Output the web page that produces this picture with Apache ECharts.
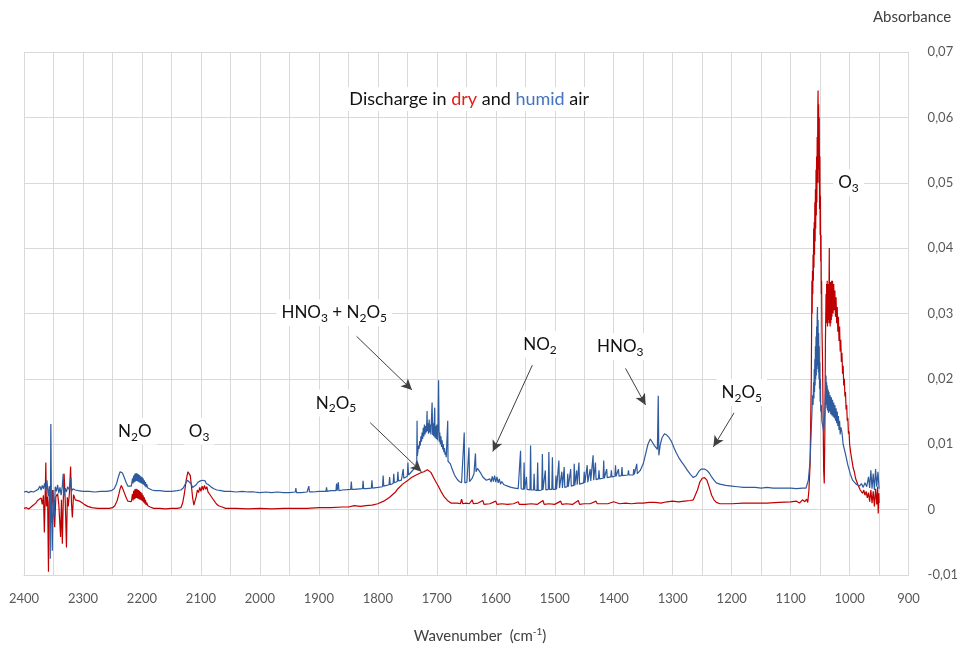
<!DOCTYPE html>
<html>
<head>
<meta charset="utf-8">
<script src="https://cdn.jsdelivr.net/npm/echarts@6/dist/echarts.min.js"></script>
<style>
  html, body { margin: 0; padding: 0; background: #fff; }
  #chart { width: 961px; height: 648px; }
</style>
</head>
<body>
<div id="chart"></div>
<script>
// FTIR absorbance spectra: [wavenumber (cm-1), absorbance]
const dryAir = [
  [2400,0.0002],[2396,0.0003],[2392,0.0001],[2388,0.0004],[2384,0.0007],[2380,0.0010],[2377,0.0014],[2374,0.0011],
  [2371,0.0018],[2369,0.0008],[2367,0.0022],[2365.5,-0.0035],[2364,0.0025],[2363,0.0072],[2362,0.0005],[2360,0.0020],
  [2358.5,-0.0095],[2357.5,0.0010],[2356,0.0028],[2354,-0.0020],[2352,0.0030],[2350,0.0005],[2348,-0.0027],[2346,0.0020],
  [2343,0.0024],[2341,0.0008],[2338,-0.0042],[2336.5,0.0015],[2335,-0.0052],[2333.5,0.0010],[2332,0.0055],[2330,0.0012],
  [2328,-0.0058],[2326.5,0.0019],[2325,0.0005],[2323,0.0025],[2321,0.0066],[2319.5,0.0010],[2318,-0.0012],[2316,0.0023],
  [2313,0.0015],[2310,0.0017],[2306,0.0013],[2302,0.0011],[2298,0.0008],[2292,0.0005],[2285,0.0003],[2275,0.0002],
  [2265,0.0002],[2255,0.0002],[2250,0.0003],
  // N2O
  [2246,0.0006],[2242,0.0014],[2239,0.0024],[2237,0.0032],[2235,0.0037],[2233,0.0033],[2230,0.0026],[2227,0.0019],
  [2224,0.0013],[2221,0.0010],[2218,0.0012],[2216,0.0024],[2215,0.0014],[2214,0.0029],[2213,0.0016],[2212,0.0031],
  [2211,0.0017],[2210,0.0032],[2209,0.0018],[2208,0.0031],[2207,0.0017],[2206,0.0030],[2205,0.0016],[2204,0.0029],
  [2203,0.0015],[2202,0.0027],[2201,0.0014],[2200,0.0025],[2199,0.0013],[2198,0.0022],[2197,0.0011],[2196,0.0019],
  [2195,0.0009],[2194,0.0015],[2193,0.0007],[2192,0.0011],[2190,0.0006],[2186,0.0004],[2180,0.0002],[2170,0.0002],
  [2160,0.0001],[2150,0.0002],[2140,0.0002],[2134,0.0003],
  // O3 overtone
  [2131,0.0010],[2128,0.0025],[2125,0.0045],[2122,0.0058],[2120,0.0060],[2118,0.0052],[2116,0.0035],[2114,0.0018],
  [2112,0.0007],[2110,0.0004],[2108,0.0020],[2106,0.0030],[2104,0.0026],[2102,0.0034],[2100,0.0028],[2098,0.0036],
  [2096,0.0030],[2094,0.0037],[2092,0.0031],[2090,0.0035],[2088,0.0027],[2086,0.0030],[2084,0.0022],[2082,0.0020],
  [2078,0.0014],[2074,0.0009],[2070,0.0006],[2064,0.0004],[2058,0.0002],[2050,0.0002],[2040,0.0002],[2020,0.0001],
  [2000,0.0002],[1980,0.0001],[1960,0.0002],[1940,0.0002],[1920,0.0002],[1900,0.0003],[1880,0.0003],[1860,0.0004],
  [1850,0.0004],[1840,0.0006],[1830,0.0005],[1820,0.0006],[1810,0.0007],
  // N2O5
  [1800,0.0009],[1790,0.0013],[1780,0.0019],[1770,0.0027],[1766,0.0032],[1758,0.0039],[1750,0.0044],[1743,0.0049],
  [1735,0.0053],[1728,0.0056],[1722,0.0058],[1716,0.0061],[1713,0.0063],[1710,0.0057],[1706,0.0050],[1702,0.0043],
  [1698,0.0037],[1693,0.0028],[1687,0.0019],[1682,0.0014],[1676,0.0010],[1670,0.0010],[1665,0.0010],[1660,0.0009],
  [1658,0.0016],[1656,0.0009],[1650,0.0010],[1645,0.0009],[1640,0.0015],[1638,0.0009],[1630,0.0010],[1622,0.0014],
  [1620,0.0008],[1610,0.0009],[1600,0.0013],[1598,0.0008],[1590,0.0009],[1580,0.0008],[1570,0.0009],[1562,0.0012],
  [1560,0.0008],[1550,0.0008],[1540,0.0009],[1530,0.0008],[1520,0.0014],[1518,0.0008],[1510,0.0009],[1500,0.0008],
  [1490,0.0013],[1488,0.0008],[1480,0.0009],[1470,0.0008],[1460,0.0014],[1458,0.0008],[1450,0.0009],[1440,0.0009],
  [1430,0.0013],[1428,0.0009],[1420,0.0009],[1410,0.0009],[1400,0.0012],[1398,0.0009],[1390,0.0009],[1380,0.0010],
  [1370,0.0009],[1360,0.0010],[1350,0.0010],[1340,0.0011],[1330,0.0011],[1320,0.0010],[1310,0.0012],[1300,0.0013],
  [1290,0.0012],[1280,0.0013],[1270,0.0014],[1265,0.0015],
  // N2O5
  [1262,0.0018],[1258,0.0030],[1254,0.0042],[1250,0.0048],[1246,0.0049],[1242,0.0045],[1238,0.0034],[1234,0.0022],
  [1230,0.0015],[1226,0.0011],[1220,0.0009],[1200,0.0009],[1180,0.0010],[1160,0.0010],[1140,0.0010],[1120,0.0011],
  [1100,0.0012],[1090,0.0013],[1085,0.0010],[1080,0.0015],[1076,0.0012],[1073,0.0016],[1071,0.0011],
  // O3 fundamental
  [1069,0.0030],[1067,0.0070],[1065,0.0200],[1064,0.0350],[1063.5,0.0300],[1063,0.0365],[1062.5,0.0330],[1062,0.0390],
  [1061.5,0.0350],[1061,0.0430],[1060.5,0.0370],[1060,0.0440],[1059.5,0.0390],[1059,0.0470],[1058.5,0.0410],[1058,0.0490],
  [1057.5,0.0430],[1057,0.0520],[1056.5,0.0450],[1056,0.0540],[1055.5,0.0470],[1055,0.0570],[1054.5,0.0500],[1054,0.0610],
  [1053.5,0.0641],[1053,0.0520],[1052.5,0.0620],[1052,0.0500],[1051.5,0.0600],[1051,0.0460],[1050.5,0.0540],[1050,0.0420],
  [1049.5,0.0480],[1049,0.0380],[1048.5,0.0420],[1048,0.0330],[1047.5,0.0350],[1047,0.0280],[1046,0.0230],[1045,0.0150],
  [1044,0.0060],[1043,0.0040],[1042,0.0120],[1041,0.0260],[1040,0.0330],[1039.5,0.0290],[1039,0.0345],[1038.5,0.0285],
  [1038,0.0350],[1037.5,0.0280],[1037,0.0340],[1036.5,0.0285],[1036,0.0345],[1035.5,0.0290],[1035,0.0335],[1034.5,0.0400],
  [1034,0.0285],[1033.5,0.0345],[1033,0.0280],[1032.5,0.0348],[1032,0.0285],[1031.5,0.0345],[1031,0.0290],[1030.5,0.0350],
  [1030,0.0295],[1029,0.0350],[1028,0.0300],[1027,0.0345],[1026,0.0305],[1025,0.0335],[1024,0.0295],[1023,0.0325],
  [1022,0.0285],[1021,0.0310],[1020,0.0272],[1019,0.0295],[1018,0.0258],[1017,0.0280],[1016,0.0242],[1015,0.0260],
  [1014,0.0226],[1013,0.0240],[1012,0.0208],[1011,0.0220],[1010,0.0190],[1009,0.0200],[1008,0.0173],[1007,0.0180],
  [1006,0.0153],[1005,0.0160],[1004,0.0136],[1003,0.0140],[1002,0.0116],[1001,0.0120],[1000,0.0100],[999,0.0100],
  [998,0.0086],[996,0.0075],[994,0.0064],[992,0.0058],[990,0.0048],[988,0.0045],[986,0.0038],[984,0.0036],
  [982,0.0030],[980,0.0033],[978,0.0025],[976,0.0030],[974,0.0022],[972,0.0028],[970,0.0018],[968,0.0026],
  [966,0.0012],[964,0.0030],[962,0.0010],[960,0.0028],[958,0.0005],[956,0.0032],[954,0.0008],[952.5,0.0035],
  [951.5,-0.0006],[950.5,0.0025],[950,0.0010]
];

const humidAir = [
  [2400,0.0027],[2396,0.0028],[2392,0.0026],[2388,0.0028],[2384,0.0027],[2380,0.0029],[2376,0.0031],[2373,0.0036],
  [2371,0.0030],[2369,0.0037],[2367,0.0032],[2365,0.0040],[2363,0.0028],[2361,0.0045],[2359,0.0020],[2357,0.0036],
  [2355.5,-0.0075],[2354.5,0.0131],[2353.5,0.0010],[2352,-0.0063],[2350.5,0.0030],[2349,-0.0012],[2347,0.0035],[2345,0.0028],
  [2343,0.0038],[2341,0.0025],[2339,0.0034],[2337,0.0022],[2335,0.0036],[2333.5,0.0055],[2332.5,0.0020],[2330,0.0033],
  [2328,0.0027],[2326,0.0035],[2323,0.0030],[2320.5,0.0049],[2319.5,0.0028],[2317,0.0032],[2313,0.0030],[2308,0.0029],
  [2300,0.0028],[2290,0.0028],[2280,0.0027],[2270,0.0028],[2260,0.0028],[2252,0.0029],
  // N2O
  [2247,0.0032],[2243,0.0040],[2240,0.0050],[2237,0.0058],[2235,0.0061],[2233,0.0056],[2230,0.0049],[2227,0.0042],
  [2224,0.0036],[2221,0.0034],[2218,0.0036],[2216,0.0048],[2215,0.0040],[2214,0.0052],[2213,0.0042],[2212,0.0055],
  [2211,0.0043],[2210,0.0056],[2209,0.0044],[2208,0.0055],[2207,0.0043],[2206,0.0054],[2205,0.0042],[2204,0.0053],
  [2203,0.0041],[2202,0.0051],[2201,0.0040],[2200,0.0050],[2199,0.0039],[2198,0.0048],[2197,0.0038],[2196,0.0045],
  [2195,0.0036],[2194,0.0042],[2193,0.0034],[2192,0.0039],[2190,0.0033],[2187,0.0032],[2183,0.0030],[2178,0.0029],
  [2170,0.0029],[2160,0.0028],[2150,0.0028],[2140,0.0029],[2134,0.0030],
  // O3 overtone
  [2130,0.0033],[2126,0.0040],[2123,0.0045],[2120,0.0046],[2117,0.0040],[2114,0.0034],[2111,0.0033],[2108,0.0038],
  [2105,0.0042],[2103,0.0040],[2101,0.0044],[2099,0.0041],[2097,0.0045],[2095,0.0042],[2093,0.0044],[2091,0.0040],
  [2089,0.0042],[2087,0.0038],[2085,0.0037],[2082,0.0034],[2078,0.0032],[2073,0.0030],[2066,0.0029],[2060,0.0028],
  [2050,0.0028],[2040,0.0027],[2030,0.0028],[2020,0.0027],[2010,0.0027],[2000,0.0026],[1990,0.0027],[1980,0.0026],
  [1970,0.0027],[1960,0.0026],[1950,0.0026],[1940,0.0027],[1939,0.0033],[1938,0.0026],[1930,0.0026],[1920,0.0027],
  [1917,0.0036],[1916,0.0027],[1910,0.0027],[1900,0.0028],[1888,0.0028],[1887,0.0034],[1886,0.0028],[1880,0.0029],
  [1871,0.0029],[1870,0.0040],[1869,0.0029],[1868,0.0029],[1867,0.0042],[1866,0.0029],[1860,0.0030],[1846,0.0031],
  [1845,0.0043],[1844,0.0031],[1840,0.0031],[1826,0.0032],[1825,0.0044],[1824,0.0032],[1820,0.0032],[1811,0.0033],
  [1810,0.0045],[1809,0.0033],[1800,0.0034],[1792,0.0035],[1791,0.0052],[1790,0.0036],[1781,0.0038],[1780,0.0050],
  [1779,0.0038],[1774,0.0040],[1773,0.0055],[1772,0.0041],[1770,0.0041],[1767,0.0043],[1766,0.0058],[1765,0.0044],
  [1760,0.0045],[1758,0.0047],[1757,0.0062],[1756,0.0048],[1750,0.0051],[1749,0.0072],[1748,0.0053],[1745,0.0056],
  [1740,0.0061],[1736,0.0066],
  // HNO3 + N2O5
  [1735,0.0068],[1734,0.0075],[1733.5,0.0136],[1733,0.0082],[1732,0.0090],[1731,0.0098],[1730,0.0093],[1729,0.0105],
  [1728,0.0098],[1727,0.0112],[1726,0.0104],[1725,0.0118],[1724,0.0108],[1723,0.0125],[1722,0.0112],[1721,0.0130],
  [1720,0.0115],[1719,0.0128],[1718,0.0118],[1717,0.0135],[1716.5,0.0151],[1716,0.0120],[1715,0.0132],[1714,0.0116],
  [1713,0.0138],[1712,0.0118],[1711,0.0130],[1710,0.0115],[1709,0.0140],[1708,0.0164],[1707,0.0114],[1706,0.0132],
  [1705,0.0112],[1704,0.0145],[1703.5,0.0156],[1703,0.0110],[1702,0.0128],[1701,0.0108],[1700,0.0130],[1699,0.0106],
  [1698,0.0125],[1697,0.0198],[1696,0.0104],[1695,0.0118],[1694,0.0100],[1693,0.0112],[1692,0.0096],[1691,0.0106],
  [1690,0.0092],[1689,0.0100],[1688,0.0088],[1687,0.0094],[1686,0.0084],[1685,0.0088],[1684,0.0080],[1683,0.0082],
  [1682,0.0078],[1681.5,0.0136],[1681,0.0074],[1679,0.0073],[1677,0.0070],[1674,0.0062],[1670,0.0053],[1666,0.0047],
  [1662,0.0043],[1658,0.0041],[1655,0.0041],[1653.5,0.0118],[1652.5,0.0041],[1649,0.0042],[1645.5,0.0095],[1644.5,0.0043],
  [1640,0.0048],[1637,0.0055],[1634.5,0.0086],[1633.5,0.0058],
  // NO2
  [1631,0.0063],[1628,0.0060],[1625,0.0055],[1622,0.0050],[1619,0.0047],[1616,0.0045],[1613,0.0044],[1610,0.0047],
  [1608,0.0042],[1606,0.0051],[1604,0.0043],[1602,0.0052],[1600,0.0042],[1598,0.0050],[1596,0.0041],[1594,0.0047],
  [1592,0.0039],[1590,0.0043],[1586,0.0038],[1580,0.0036],[1574,0.0034],[1568,0.0033],[1562,0.0032],[1559,0.0032],
  [1558,0.0090],[1557,0.0032],[1553,0.0031],[1552,0.0072],[1551,0.0031],[1549,0.0031],[1548,0.0050],[1547,0.0031],
  [1545,0.0030],[1542,0.0030],[1541,0.0098],[1540,0.0030],[1536,0.0030],[1535,0.0055],[1534,0.0030],[1530,0.0029],
  [1529,0.0072],[1528,0.0029],[1522,0.0030],[1521,0.0085],[1520,0.0030],[1517,0.0030],[1516,0.0060],[1515,0.0030],
  [1511,0.0031],[1510,0.0088],[1509,0.0031],[1505,0.0031],[1504,0.0080],[1503,0.0031],[1499,0.0031],[1498,0.0052],
  [1497,0.0031],[1494,0.0032],[1493,0.0075],[1492,0.0033],[1489,0.0033],[1488,0.0058],[1487,0.0033],[1485,0.0034],
  [1484,0.0065],[1483,0.0034],[1479,0.0035],[1478,0.0055],[1477,0.0035],[1474,0.0036],[1473,0.0062],[1472,0.0036],
  [1468,0.0037],[1467,0.0070],[1466,0.0037],[1464,0.0038],[1463,0.0060],[1462,0.0038],[1460,0.0039],[1459,0.0072],
  [1458,0.0039],[1455,0.0040],[1451,0.0041],[1450,0.0058],[1449,0.0041],[1446,0.0042],[1445,0.0068],[1444,0.0042],
  [1441,0.0043],[1440,0.0062],[1439,0.0044],[1436,0.0045],[1435,0.0083],[1434,0.0045],[1432,0.0045],[1431,0.0072],
  [1430,0.0046],[1426,0.0047],[1425,0.0060],[1424,0.0047],[1418,0.0048],[1417,0.0075],[1416,0.0048],[1413,0.0048],
  [1412,0.0062],[1411,0.0049],[1405,0.0050],[1404,0.0060],[1403,0.0050],[1398,0.0051],[1397,0.0068],[1396,0.0051],
  [1393,0.0051],[1392,0.0062],[1391,0.0051],[1387,0.0052],[1386,0.0065],[1385,0.0052],[1376,0.0053],[1375,0.0060],
  [1374,0.0053],[1367,0.0053],[1366,0.0062],[1365,0.0054],[1362,0.0054],[1361,0.0070],[1360,0.0055],
  // HNO3
  [1355,0.0060],[1350,0.0070],[1346,0.0085],[1342,0.0100],[1338,0.0108],[1335,0.0106],[1331,0.0098],[1326,0.0092],
  [1324.5,0.0174],[1323.5,0.0083],[1321,0.0100],[1318,0.0110],[1314,0.0116],[1310,0.0114],[1306,0.0110],[1302,0.0104],
  [1298,0.0095],[1294,0.0087],[1290,0.0080],[1285,0.0073],[1280,0.0067],[1275,0.0060],[1270,0.0054],[1265,0.0049],
  // N2O5
  [1260,0.0052],[1256,0.0058],[1252,0.0062],[1249,0.0060],[1246,0.0062],[1242,0.0060],[1238,0.0056],[1234,0.0050],
  [1230,0.0045],[1226,0.0041],[1220,0.0039],[1210,0.0037],[1200,0.0036],[1190,0.0035],[1180,0.0034],[1170,0.0034],
  [1160,0.0034],[1150,0.0033],[1140,0.0034],[1130,0.0033],[1120,0.0033],[1110,0.0033],[1100,0.0033],[1090,0.0032],
  [1080,0.0033],[1074,0.0033],
  // O3 fundamental
  [1070,0.0045],[1067,0.0075],[1064,0.0147],[1063,0.0175],[1062,0.0160],[1061,0.0195],[1060.5,0.0170],[1060,0.0215],
  [1059.5,0.0180],[1059,0.0230],[1058.5,0.0190],[1058,0.0250],[1057.5,0.0200],[1057,0.0265],[1056.5,0.0205],[1056,0.0280],
  [1055.5,0.0215],[1055,0.0295],[1054.5,0.0310],[1054,0.0220],[1053.5,0.0290],[1053,0.0210],[1052.5,0.0270],[1052,0.0200],
  [1051.5,0.0250],[1051,0.0185],[1050.5,0.0225],[1050,0.0165],[1049.5,0.0200],[1049,0.0150],[1048,0.0160],[1047,0.0135],
  [1046,0.0135],[1044,0.0120],[1042,0.0150],[1041,0.0175],[1040,0.0205],[1039.5,0.0160],[1039,0.0195],[1038.5,0.0155],
  [1038,0.0190],[1037.5,0.0152],[1037,0.0185],[1036.5,0.0150],[1036,0.0182],[1035.5,0.0148],[1035,0.0180],[1034,0.0150],
  [1033,0.0175],[1032,0.0146],[1031,0.0172],[1030,0.0144],[1029,0.0168],[1028,0.0142],[1027,0.0164],[1026,0.0140],
  [1025,0.0160],[1024,0.0136],[1023,0.0155],[1022,0.0132],[1021,0.0150],[1020,0.0128],[1019,0.0143],[1018,0.0122],
  [1017,0.0136],[1016,0.0115],[1015,0.0126],[1013,0.0118],[1011,0.0100],[1009,0.0100],[1007,0.0085],[1005,0.0082],
  [1003,0.0068],[1001,0.0066],[999,0.0055],[997,0.0055],[995,0.0045],[992,0.0045],[989,0.0039],[986,0.0041],
  [983,0.0036],[980,0.0040],[977,0.0034],[974,0.0041],[971,0.0035],[968,0.0050],[966,0.0033],[964,0.0060],
  [962,0.0032],[960,0.0055],[958,0.0030],[956,0.0062],[954,0.0035],[952,0.0058],[950,0.0032]
];

// Band assignments: text and its centre [wavenumber, absorbance]
const bandLabels = [
  { text: '{t|N}{s|2}{t|O}', at: [2212, 0.0120] },
  { text: '{t|O}{s|3}', at: [2103, 0.0120] },
  { text: '{t|N}{s|2}{t|O}{s|5}', at: [1871, 0.0163] },
  { text: '{t|HNO}{s|3}{t| + N}{s|2}{t|O}{s|5}', at: [1874, 0.0301] },
  { text: '{t|NO}{s|2}', at: [1525, 0.0253] },
  { text: '{t|HNO}{s|3}', at: [1389, 0.0249] },
  { text: '{t|N}{s|2}{t|O}{s|5}', at: [1183, 0.0179] },
  { text: '{t|O}{s|3}', at: [1002, 0.0500] }
];

// Arrows: from [wavenumber, absorbance] to [wavenumber, absorbance]
const bandArrows = [
  [[1836, 0.0265], [1742, 0.0183]],
  [[1813, 0.0133], [1726, 0.0058]],
  [[1538, 0.0221], [1605, 0.0089]],
  [[1380, 0.0216], [1346, 0.0160]],
  [[1196, 0.0148], [1231, 0.0096]]
];

const DRY = '#C00000';
const HUMID = '#2E5A9E';
const FONT = 'Lato, "Open Sans", sans-serif';
const GRID = '#D9D9D9';

const chart = echarts.init(document.getElementById('chart'), null, { renderer: 'canvas' });

chart.setOption({
  animation: false,
  backgroundColor: '#fff',
  grid: { left: 24, right: 48, top: 52, bottom: 73 },
  xAxis: {
    type: 'value', inverse: true, min: 900, max: 2400, interval: 100,
    axisLine: { show: true, onZero: false, lineStyle: { color: GRID } },
    axisTick: { show: false },
    minorTick: { show: false, splitNumber: 2 },
    axisLabel: {
      color: '#595959', fontSize: 13, fontFamily: FONT, margin: 17,
      showMinLabel: true, showMaxLabel: true, formatter: v => String(v)
    },
    splitLine: { show: true, lineStyle: { color: GRID, width: 1 } },
    minorSplitLine: { show: true, lineStyle: { color: GRID, width: 1 } }
  },
  yAxis: {
    type: 'value', position: 'right', min: -0.01, max: 0.07, interval: 0.01,
    axisLine: { show: true, onZero: false, lineStyle: { color: GRID } },
    axisTick: { show: false },
    axisLabel: {
      color: '#595959', fontSize: 13, fontFamily: FONT, margin: 19,
      formatter: v => (Math.abs(v) < 1e-9 ? '0' : v.toFixed(2).replace('.', ','))
    },
    splitLine: { show: true, lineStyle: { color: GRID, width: 1 } }
  },
  series: [
    {
      name: 'dry', type: 'line', data: dryAir, symbol: 'none', showSymbol: false,
      lineStyle: { color: DRY, width: 1.2 }, itemStyle: { color: DRY }, z: 2, silent: true
    },
    {
      name: 'humid', type: 'line', data: humidAir, symbol: 'none', showSymbol: false,
      lineStyle: { color: HUMID, width: 1.2 }, itemStyle: { color: HUMID }, z: 3, silent: true,
      markLine: {
        silent: true, symbol: ['none', 'arrow'], symbolSize: [8, 11],
        label: { show: false },
        lineStyle: { color: '#404040', width: 1, type: 'solid' },
        itemStyle: { color: '#1a1a1a' },
        data: bandArrows.map(a => [{ coord: a[0] }, { coord: a[1] }])
      }
    }
  ]
});

const richLabel = {
  t: { fontSize: 17, lineHeight: 23, fontFamily: FONT, fill: '#111' },
  s: { fontSize: 12, lineHeight: 12, fontFamily: FONT, fill: '#111', verticalAlign: 'bottom' }
};

const graphics = bandLabels.map(l => {
  const p = chart.convertToPixel({ gridIndex: 0 }, l.at);
  return {
    type: 'text', x: p[0], y: p[1], z: 10,
    style: {
      text: l.text, rich: richLabel, align: 'center', verticalAlign: 'middle',
      backgroundColor: '#fff', padding: [2, 5]
    }
  };
});

const titlePos = chart.convertToPixel({ gridIndex: 0 }, [1645, 0.0628]);
graphics.push({
  type: 'text', x: titlePos[0], y: titlePos[1], z: 10,
  style: {
    text: '{k|Discharge in }{r|dry}{k| and }{b|humid}{k| air}',
    align: 'center', verticalAlign: 'middle', backgroundColor: '#fff', padding: [3, 4],
    rich: {
      k: { fontSize: 18, fontFamily: FONT, fill: '#111' },
      r: { fontSize: 18, fontFamily: FONT, fill: '#E0201E' },
      b: { fontSize: 18, fontFamily: FONT, fill: '#4472C4' }
    }
  }
});

graphics.push({
  type: 'text', x: 912, y: 17, z: 10,
  style: { text: 'Absorbance', font: '15px ' + FONT, fill: '#404040', align: 'center', verticalAlign: 'middle' }
});

graphics.push({
  type: 'text', x: 480, y: 636, z: 10,
  style: {
    text: '{a|Wavenumber  (cm}{u|-1}{a|)}', align: 'center', verticalAlign: 'middle',
    rich: {
      a: { fontSize: 15, lineHeight: 19, fontFamily: FONT, fill: '#404040' },
      u: { fontSize: 10, lineHeight: 10, fontFamily: FONT, fill: '#404040', verticalAlign: 'top' }
    }
  }
});

chart.setOption({ graphic: graphics });
</script>
</body>
</html>
